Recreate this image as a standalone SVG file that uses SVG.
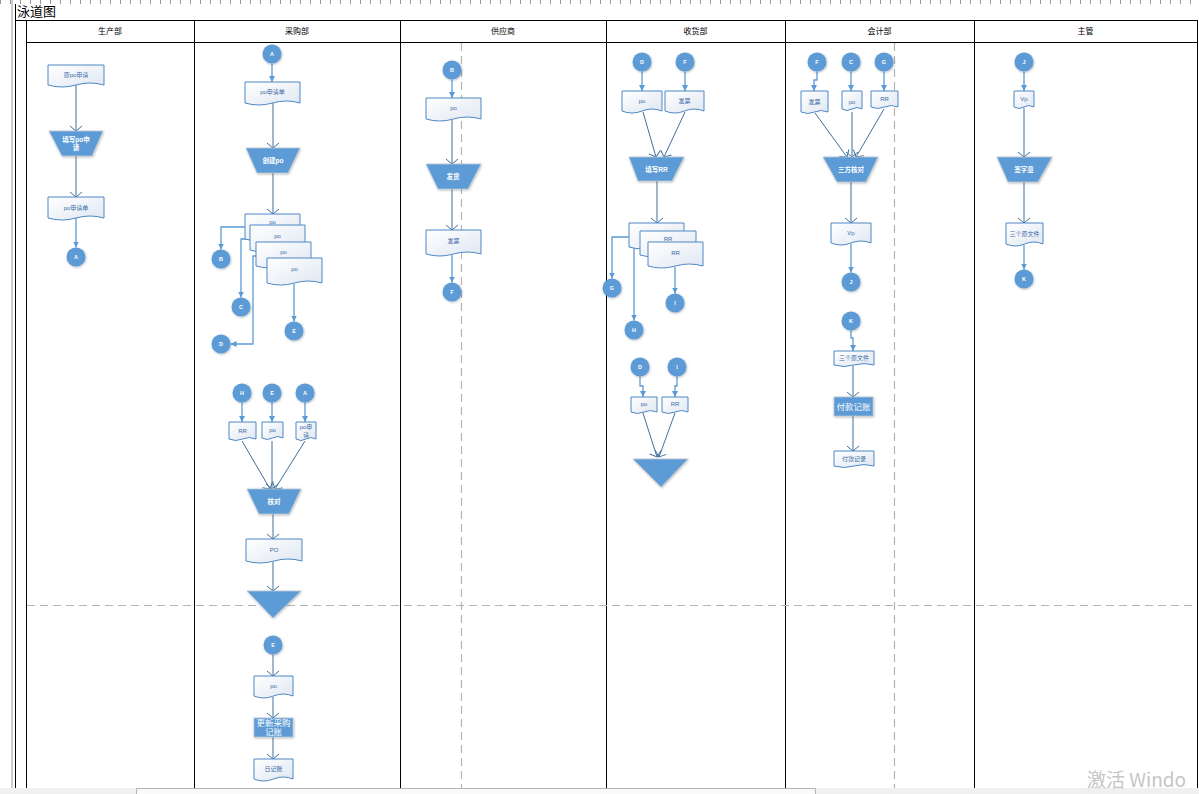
<svg xmlns="http://www.w3.org/2000/svg" width="1199" height="794" viewBox="0 0 1199 794">
<defs>
<style>
.frame{stroke:#000;stroke-width:1;fill:none}
.dash{stroke:#b4b4b4;stroke-width:1.2;stroke-dasharray:8 5;fill:none}
.doc{fill:url(#docg);stroke:#4f87c4;stroke-width:1}
.proc{fill:#5b9bd5;stroke:#b9c6d4;stroke-width:0.8;filter:url(#sh)}
.conn{fill:#5b9bd5;filter:url(#sh)}
.hd{font-family:"Liberation Sans","Noto Sans CJK SC",sans-serif;font-size:8px;fill:#000;text-anchor:middle}
.lt{font-family:"Liberation Sans","Noto Sans CJK SC",sans-serif;font-size:6px;fill:#3a6aa5;text-anchor:middle}
.wt{font-family:"Liberation Sans","Noto Sans CJK SC",sans-serif;font-size:6.5px;fill:#fff;text-anchor:middle;font-weight:bold}
.wb{font-family:"Liberation Sans","Noto Sans CJK SC",sans-serif;font-size:8.5px;fill:#fff;text-anchor:middle}
.ct{font-family:"Liberation Sans",sans-serif;font-size:5.5px;fill:#fff;text-anchor:middle;font-weight:bold}
.c1{stroke:#41719c;stroke-width:1;fill:none;marker-end:url(#open)}
.c2{stroke:#5b9bd5;stroke-width:1.3;fill:none;marker-end:url(#fill)}
</style>
<linearGradient id="docg" x1="0" y1="0" x2="1" y2="1">
<stop offset="0" stop-color="#ffffff"/>
<stop offset="1" stop-color="#dfe7f2"/>
</linearGradient>
<filter id="sh" x="-20%" y="-20%" width="140%" height="140%">
<feDropShadow dx="0.6" dy="0.8" stdDeviation="0.8" flood-color="#000" flood-opacity="0.3"/>
</filter>
<marker id="open" viewBox="0 0 14 14" refX="7" refY="7" markerWidth="14" markerHeight="14" orient="auto" markerUnits="userSpaceOnUse" overflow="visible">
<path d="M2,1 L7,7 L2,13" fill="none" stroke="#41719c" stroke-width="1"/>
</marker>
<marker id="fill" viewBox="0 0 8 8" refX="8" refY="4" markerWidth="6" markerHeight="6" orient="auto" markerUnits="userSpaceOnUse">
<path d="M0,0 L8,4 L0,8 Z" fill="#5b9bd5"/>
</marker>
</defs>

<rect x="0" y="0" width="1199" height="794" fill="#fff"/>

<!-- ruler strip and page frame -->
<g id="frame">
<line x1="0" y1="2" x2="1199" y2="2" stroke="#9a9a9a" stroke-width="4" stroke-dasharray="1 9"/>
<line x1="12" y1="0" x2="12" y2="788" stroke="#9a9a9a" stroke-width="1"/>
<line x1="15.5" y1="4" x2="15.5" y2="788" class="frame"/>
<text x="17" y="16" font-family="Liberation Sans,Noto Sans CJK SC,sans-serif" font-size="13" fill="#000">泳道图</text>
<line x1="15" y1="20.5" x2="1197" y2="20.5" class="frame"/>
<line x1="26" y1="42.5" x2="1197" y2="42.5" class="frame"/>
<line x1="26.5" y1="20" x2="26.5" y2="788" class="frame"/>
<line x1="194.5" y1="20" x2="194.5" y2="788" class="frame"/>
<line x1="400.5" y1="20" x2="400.5" y2="788" class="frame"/>
<line x1="606.5" y1="20" x2="606.5" y2="788" class="frame"/>
<line x1="785.5" y1="20" x2="785.5" y2="788" class="frame"/>
<line x1="974.5" y1="20" x2="974.5" y2="788" class="frame"/>
<line x1="1197.5" y1="20" x2="1197.5" y2="788" class="frame"/>
<line x1="27" y1="605.5" x2="1197" y2="605.5" class="dash"/>
<line x1="461.5" y1="43" x2="461.5" y2="788" class="dash"/>
<line x1="894.5" y1="43" x2="894.5" y2="788" class="dash"/>
<text x="110" y="34" class="hd">生产部</text>
<text x="297" y="34" class="hd">采购部</text>
<text x="503" y="34" class="hd">供应商</text>
<text x="695.5" y="34" class="hd">收货部</text>
<text x="879.5" y="34" class="hd">会计部</text>
<text x="1085.5" y="34" class="hd">主管</text>
</g>

<!-- connectors -->
<g id="connectors">
<!-- 生产部 -->
<path class="c1" d="M76 85V131"/>
<path class="c1" d="M76 156V197"/>
<path class="c2" d="M76 218V247.5"/>
<!-- 采购部 upper -->
<path class="c2" d="M272 63.5V82"/>
<path class="c1" d="M273 103V148"/>
<path class="c1" d="M273 173V214"/>
<path class="c2" d="M245 227H221V249.5"/>
<path class="c2" d="M250 239H241V297.5"/>
<path class="c2" d="M257 256H253V344H230.5"/>
<path class="c2" d="M294 284V321.5"/>
<!-- 采购部 middle -->
<path class="c2" d="M242 402.5V422"/>
<path class="c2" d="M272 402.5V422"/>
<path class="c2" d="M305 402.5V422"/>
<path class="c1" d="M242 441L270 489"/>
<path class="c1" d="M272 441V489"/>
<path class="c1" d="M305 441L275 489"/>
<path class="c1" d="M273 514V539"/>
<path class="c1" d="M273 562V591"/>
<!-- 采购部 lower -->
<path class="c1" d="M273 654.5V676"/>
<path class="c1" d="M273 697V718"/>
<path class="c1" d="M273 737V759"/>
<!-- 供应商 -->
<path class="c2" d="M452 79.5V98"/>
<path class="c1" d="M452 120V164"/>
<path class="c1" d="M452 189V230"/>
<path class="c2" d="M452 255V282.5"/>
<!-- 收货部 -->
<path class="c2" d="M642 71.5V91"/>
<path class="c2" d="M685 71.5V91"/>
<path class="c1" d="M643 112L656 157"/>
<path class="c1" d="M685 112L664 157"/>
<path class="c1" d="M657 181V223"/>
<path class="c2" d="M629 237H612V278.5"/>
<path class="c2" d="M640 246H634V320.5"/>
<path class="c2" d="M675 267V293.5"/>
<path class="c2" d="M640 376.5V386H643V397"/>
<path class="c2" d="M677 376.5V386H675V397"/>
<path class="c1" d="M643 413L657 457"/>
<path class="c1" d="M675 413L659 457"/>
<!-- 会计部 -->
<path class="c2" d="M817 71.5V80H814V91"/>
<path class="c2" d="M851 71.5V91"/>
<path class="c2" d="M884 71.5V91"/>
<path class="c1" d="M815 113L847 157"/>
<path class="c1" d="M852 112V157"/>
<path class="c1" d="M884 109L856 157"/>
<path class="c1" d="M851 182V223"/>
<path class="c2" d="M851 244V272.5"/>
<path class="c2" d="M851 330.5V338H853V351"/>
<path class="c1" d="M853 366V397"/>
<path class="c1" d="M853 416V451"/>
<!-- 主管 -->
<path class="c2" d="M1024 71.5V91"/>
<path class="c1" d="M1024 108V157"/>
<path class="c1" d="M1024 182V223"/>
<path class="c2" d="M1024 245V269.5"/>
</g>

<!-- 生产部 -->
<g id="n-yuan-po">
<path class="doc" d="M48 65H104V85Q90 81 76 85T48 85Z"/>
<text x="76" y="77" class="lt">原po申请</text>
</g>
<g id="n-fill-po">
<polygon class="proc" points="49,131 103,131 92,156 62,156"/>
<text x="76" y="142" class="wt">填写po申</text>
<text x="76" y="150" class="wt">请</text>
</g>
<g id="n-po-form-1">
<path class="doc" d="M48 197H104V218Q90 214 76 218T48 218Z"/>
<text x="76" y="210" class="lt">po申请单</text>
</g>
<g id="n-a1"><circle class="conn" cx="76" cy="257" r="9.5"/><text x="76" y="259" class="ct">A</text></g>

<!-- 采购部 upper -->
<g id="n-a2"><circle class="conn" cx="272" cy="54" r="9.5"/><text x="272" y="56" class="ct">A</text></g>
<g id="n-po-form-2">
<path class="doc" d="M245 82H300V103Q286.25 99 272.5 103T245 103Z"/>
<text x="272.5" y="94" class="lt">po申请单</text>
</g>
<g id="n-create-po">
<polygon class="proc" points="246,148 300,148 288,173 257,173"/>
<text x="273" y="163" class="wt">创建po</text>
</g>
<g id="n-po-stack">
<path class="doc" d="M245 214H300V239Q286.25 235 272.5 239T245 239Z"/>
<text x="272.5" y="224" class="lt">po</text>
<path class="doc" d="M250 225H305V250Q291.25 246 277.5 250T250 250Z"/>
<text x="277.5" y="238" class="lt">po</text>
<path class="doc" d="M256 242H311V266Q297.25 262 283.5 266T256 266Z"/>
<text x="283.5" y="254" class="lt">po</text>
<path class="doc" d="M267 258H322V283Q308.25 279 294.5 283T267 283Z"/>
<text x="294.5" y="271" class="lt">po</text>
</g>
<g id="n-b1"><circle class="conn" cx="221" cy="259" r="9.5"/><text x="221" y="261" class="ct">B</text></g>
<g id="n-c1"><circle class="conn" cx="241" cy="307" r="9.5"/><text x="241" y="309" class="ct">C</text></g>
<g id="n-d1"><circle class="conn" cx="221" cy="344" r="9.5"/><text x="221" y="346" class="ct">D</text></g>
<g id="n-e1"><circle class="conn" cx="294" cy="331" r="9.5"/><text x="294" y="333" class="ct">E</text></g>

<!-- 采购部 middle -->
<g id="n-h1"><circle class="conn" cx="242" cy="393" r="9.5"/><text x="242" y="395" class="ct">H</text></g>
<g id="n-e2"><circle class="conn" cx="272" cy="393" r="9.5"/><text x="272" y="395" class="ct">E</text></g>
<g id="n-a3"><circle class="conn" cx="305" cy="393" r="9.5"/><text x="305" y="395" class="ct">A</text></g>
<g id="n-rr1">
<path class="doc" d="M229 422H256V439Q249.25 436 242.5 439T229 439Z"/>
<text x="242.5" y="433" class="lt">RR</text>
</g>
<g id="n-po1">
<path class="doc" d="M262 422H283V438Q277.75 435 272.5 438T262 438Z"/>
<text x="272.5" y="432" class="lt">po</text>
</g>
<g id="n-po-req">
<path class="doc" d="M296 422H316V439Q311 436 306 439T296 439Z"/>
<text x="306" y="429" class="lt">po申</text>
<text x="306" y="437" class="lt">请</text>
</g>
<g id="n-check">
<polygon class="proc" points="247,489 301,489 289,514 259,514"/>
<text x="274" y="504" class="wt">核对</text>
</g>
<g id="n-po-final">
<path class="doc" d="M246 539H302V561Q288 557 274 561T246 561Z"/>
<text x="274" y="552" class="lt">PO</text>
</g>
<g id="n-store1"><polygon class="proc" points="247,591 301,591 273,618"/></g>

<!-- 采购部 lower -->
<g id="n-e3"><circle class="conn" cx="273" cy="645" r="9.5"/><text x="273" y="647" class="ct">E</text></g>
<g id="n-po2">
<path class="doc" d="M254 676H293V696Q283.25 692 273.5 696T254 696Z"/>
<text x="273.5" y="688" class="lt">po</text>
</g>
<g id="n-update">
<rect class="proc" x="254" y="718" width="39" height="19"/>
<text x="273.5" y="725.5" class="wb">更新采购</text>
<text x="273.5" y="735" class="wb">记账</text>
</g>
<g id="n-journal">
<path class="doc" d="M254 759H293V779Q283.25 775 273.5 779T254 779Z"/>
<text x="273.5" y="771" class="lt">日记账</text>
</g>

<!-- 供应商 -->
<g id="n-b2"><circle class="conn" cx="452" cy="70" r="9.5"/><text x="452" y="72" class="ct">B</text></g>
<g id="n-po3">
<path class="doc" d="M426 98H481V119Q467.25 115 453.5 119T426 119Z"/>
<text x="453.5" y="110" class="lt">po</text>
</g>
<g id="n-ship">
<polygon class="proc" points="426,164 481,164 468,189 438,189"/>
<text x="453" y="179" class="wt">发货</text>
</g>
<g id="n-invoice1">
<path class="doc" d="M426 230H481V254Q467.25 250 453.5 254T426 254Z"/>
<text x="453.5" y="243" class="lt">发票</text>
</g>
<g id="n-f1"><circle class="conn" cx="452" cy="292" r="9.5"/><text x="452" y="294" class="ct">F</text></g>

<!-- 收货部 -->
<g id="n-d2"><circle class="conn" cx="642" cy="62" r="9.5"/><text x="642" y="64" class="ct">D</text></g>
<g id="n-f2"><circle class="conn" cx="685" cy="62" r="9.5"/><text x="685" y="64" class="ct">F</text></g>
<g id="n-po4">
<path class="doc" d="M622 91H662V111Q652 107 642 111T622 111Z"/>
<text x="642" y="103" class="lt">po</text>
</g>
<g id="n-invoice2">
<path class="doc" d="M665 91H704V111Q694.25 107 684.5 111T665 111Z"/>
<text x="684.5" y="103" class="lt">发票</text>
</g>
<g id="n-fill-rr">
<polygon class="proc" points="629,157 684,157 672,181 638,181"/>
<text x="656.5" y="172" class="wt">填写RR</text>
</g>
<g id="n-rr-stack">
<path class="doc" d="M629 223H684V247Q670.25 243 656.5 247T629 247Z"/>
<path class="doc" d="M640 231H696V255Q682 251 668 255T640 255Z"/>
<text x="668" y="241" class="lt">RR</text>
<path class="doc" d="M648 242H703V266Q689.25 262 675.5 266T648 266Z"/>
<text x="675.5" y="255" class="lt">RR</text>
</g>
<g id="n-g1"><circle class="conn" cx="612" cy="288" r="9.5"/><text x="612" y="290" class="ct">G</text></g>
<g id="n-h2"><circle class="conn" cx="634" cy="330" r="9.5"/><text x="634" y="332" class="ct">H</text></g>
<g id="n-i1"><circle class="conn" cx="675" cy="303" r="9.5"/><text x="675" y="305" class="ct">I</text></g>
<g id="n-d3"><circle class="conn" cx="640" cy="367" r="9.5"/><text x="640" y="369" class="ct">D</text></g>
<g id="n-i2"><circle class="conn" cx="677" cy="367" r="9.5"/><text x="677" y="369" class="ct">I</text></g>
<g id="n-po5">
<path class="doc" d="M631 397H657V412Q650.5 409 644 412T631 412Z"/>
<text x="644" y="406" class="lt">po</text>
</g>
<g id="n-rr2">
<path class="doc" d="M662 397H688V412Q681.5 409 675 412T662 412Z"/>
<text x="675" y="406" class="lt">RR</text>
</g>
<g id="n-store2"><polygon class="proc" points="633,459 688,459 661,487"/></g>

<!-- 会计部 -->
<g id="n-f3"><circle class="conn" cx="817" cy="62" r="9.5"/><text x="817" y="64" class="ct">F</text></g>
<g id="n-c2"><circle class="conn" cx="851" cy="62" r="9.5"/><text x="851" y="64" class="ct">C</text></g>
<g id="n-g2"><circle class="conn" cx="884" cy="62" r="9.5"/><text x="884" y="64" class="ct">G</text></g>
<g id="n-invoice3">
<path class="doc" d="M801 91H828V112Q821.25 109 814.5 112T801 112Z"/>
<text x="814.5" y="104" class="lt">发票</text>
</g>
<g id="n-po6">
<path class="doc" d="M842 91H862V109Q857 106 852 109T842 109Z"/>
<text x="852" y="104" class="lt">po</text>
</g>
<g id="n-rr3">
<path class="doc" d="M871 91H898V107Q891.25 104 884.5 107T871 107Z"/>
<text x="884.5" y="101" class="lt">RR</text>
</g>
<g id="n-three-way">
<polygon class="proc" points="823,157 878,157 866,182 837,182"/>
<text x="851" y="172" class="wt">三方核对</text>
</g>
<g id="n-vp1">
<path class="doc" d="M831 223H871V243Q861 239 851 243T831 243Z"/>
<text x="851" y="235" class="lt">Vp</text>
</g>
<g id="n-j1"><circle class="conn" cx="851" cy="282" r="9.5"/><text x="851" y="284" class="ct">J</text></g>
<g id="n-k1"><circle class="conn" cx="851" cy="321" r="9.5"/><text x="851" y="323" class="ct">K</text></g>
<g id="n-docs1">
<path class="doc" d="M834 351H874V365Q864 362 854 365T834 365Z"/>
<text x="854" y="360" class="lt">三个原文件</text>
</g>
<g id="n-pay">
<rect class="proc" x="834" y="397" width="39" height="19"/>
<text x="853.5" y="410" class="wb">付款记账</text>
</g>
<g id="n-pay-rec">
<path class="doc" d="M834 451H874V466Q864 463 854 466T834 466Z"/>
<text x="854" y="461" class="lt">付款记录</text>
</g>

<!-- 主管 -->
<g id="n-j2"><circle class="conn" cx="1024" cy="62" r="9.5"/><text x="1024" y="64" class="ct">J</text></g>
<g id="n-vp2">
<path class="doc" d="M1014 91H1034V107Q1029 104 1024 107T1014 107Z"/>
<text x="1024" y="101" class="lt">Vp</text>
</g>
<g id="n-sign">
<polygon class="proc" points="997,157 1052,157 1038,182 1008,182"/>
<text x="1024" y="172" class="wt">签字章</text>
</g>
<g id="n-docs2">
<path class="doc" d="M1006 223H1043V244Q1033.75 240 1024.5 244T1006 244Z"/>
<text x="1024.5" y="236" class="lt">三个原文件</text>
</g>
<g id="n-k2"><circle class="conn" cx="1024" cy="279" r="9.5"/><text x="1024" y="281" class="ct">K</text></g>

<!-- window bottom edge -->
<g id="statusbar">
<rect x="0" y="788" width="1199" height="6" fill="#f0f0f0"/>
<rect x="136.5" y="788.5" width="679" height="6" fill="#fafafa" stroke="#b5b5b5" stroke-width="1"/>
<text x="1087" y="787" font-family="Noto Sans CJK SC,Liberation Sans,sans-serif" font-size="19" fill="#c6c6c6">激活 Windo</text>
</g>
</svg>
